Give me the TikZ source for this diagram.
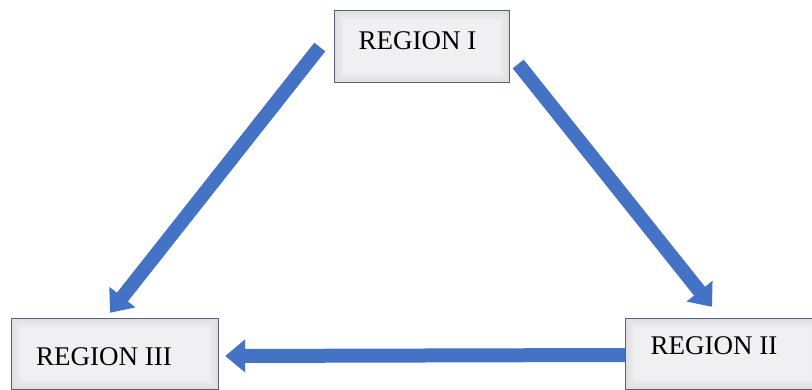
\documentclass[tikz,border=0pt]{standalone}
\usepackage{fontspec}
\setmainfont{Liberation Serif}
\usetikzlibrary{arrows.meta,calc}
\definecolor{arrowblue}{HTML}{4472C4}
\definecolor{boxfill}{HTML}{F0F0F2}
\definecolor{boxline}{HTML}{58627A}
\tikzset{
  regionbox/.style={rectangle, inner sep=0pt, fill=boxfill, draw=none},
  regiontext/.style={anchor=base, inner sep=0pt, font=\fontsize{27}{30}\selectfont, text=black},
  bigarrow/.style={draw=arrowblue, line width=14pt, -{Triangle[width=32pt,length=20pt]}, fill=arrowblue},
}
\begin{document}
\begin{tikzpicture}[x=1pt,y=-1pt]
\useasboundingbox (0,0) rectangle (812,390);
\fill[white] (0,0) rectangle (812,390);
\begin{scope}
\clip (0,0) rectangle (812,390);
\node[regionbox, minimum width=174pt, minimum height=71pt] (r1) at (422,46.5) {};
\node[regionbox, minimum width=206pt, minimum height=70pt] (r3) at (115,354) {};
\node[regionbox, minimum width=194pt, minimum height=70pt] (r2) at (723,354) {};
\foreach \n in {r1,r2,r3}{
  \foreach \i in {1,...,8}{
    \pgfmathsetmacro\op{0.07*(9-\i)/8}
    \draw[line width=1.2pt, black, opacity=\op]
      ([shift={({\i*1.2pt-0.6pt},{-(\i*1.2pt-0.6pt)})}]\n.north west) rectangle
      ([shift={({-(\i*1.2pt-0.6pt)},{\i*1.2pt-0.6pt})}]\n.south east);
  }
  \draw[boxline, line width=1.3pt] (\n.north west) rectangle (\n.south east);
}
\end{scope}
\node[regiontext] (t1) at (417.5,50) {REGION I};
\node[regiontext] (t3) at (104,365) {REGION III};
\node[regiontext] (t2) at (714,355) {REGION II};
\draw[bigarrow] ($(r1.west)+(-15,0.5)$) -- ($(r3.north)+(-5,-6)$);
\draw[bigarrow] ($(r1.east)+(9,17.5)$) -- ($(r2.north)+(-11,-12)$);
\draw[bigarrow] ($(r2.west)+(-1,1)$) -- ($(r3.east)+(7,2)$);
\end{tikzpicture}
\end{document}
